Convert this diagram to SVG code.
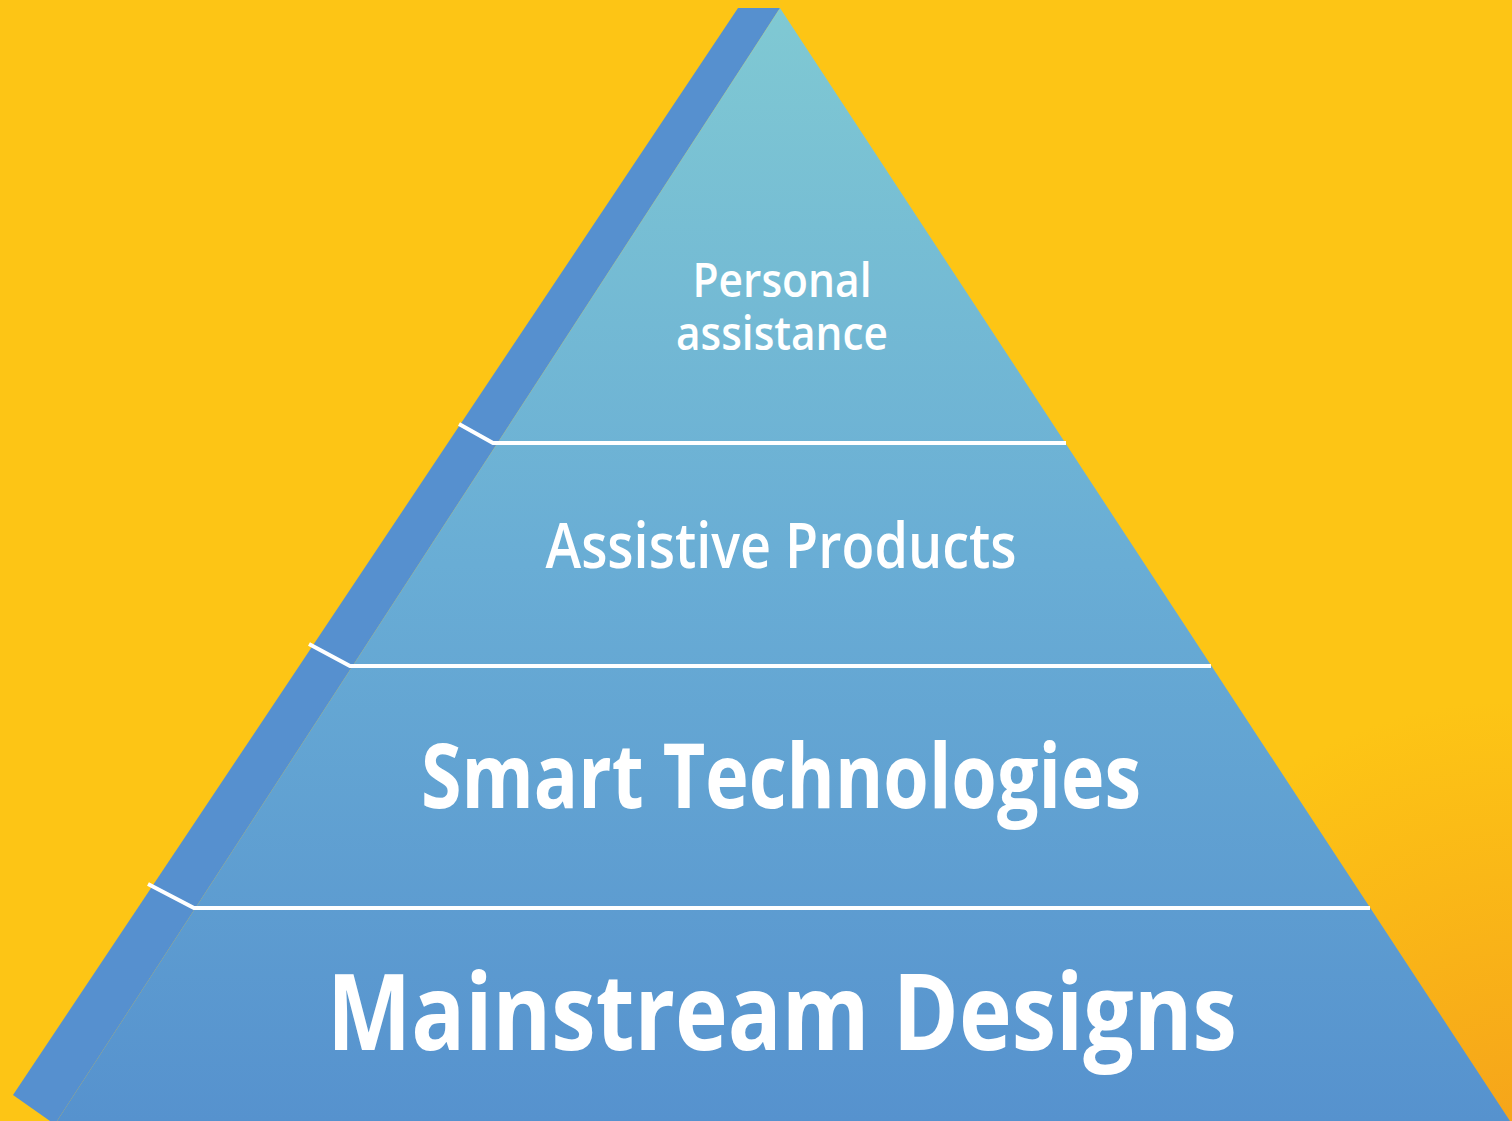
<svg xmlns="http://www.w3.org/2000/svg" width="1512" height="1121" viewBox="0 0 1512 1121">
  <defs>
    <radialGradient id="bg" cx="1512" cy="1121" r="420" gradientUnits="userSpaceOnUse">
      <stop offset="0" stop-color="#F6A51A"/>
      <stop offset="1" stop-color="#FDC515"/>
    </radialGradient>
    <linearGradient id="face" x1="0" y1="8" x2="0" y2="1121" gradientUnits="userSpaceOnUse">
      <stop offset="0" stop-color="#80C9D3"/>
      <stop offset="0.5" stop-color="#69ADD5"/>
      <stop offset="1" stop-color="#5692CE"/>
    </linearGradient>
  </defs>
  <style>
    .sep { fill: none; stroke: #FFFFFF; stroke-width: 4; stroke-linejoin: miter; }
    .lbl { fill: #FFFFFF; font-family: "Open Sans", "Liberation Sans", sans-serif; font-weight: 600; text-anchor: middle; }
    .big { font-weight: 700; }
  </style>
  <rect width="1512" height="1121" fill="#FDC515"/>
  <rect width="1512" height="1121" fill="url(#bg)"/>
  <g id="pyramid">
    <polygon points="738,8 780,8 57,1121 50,1121 13,1095" fill="#5690CF"/>
    <polygon points="780,8 1510,1121 57,1121" fill="url(#face)"/>
  </g>
  <g id="connectors">
    <polyline class="sep" points="459,424 493,443 1066,443"/>
    <polyline class="sep" points="309,644 350,666 1211,666"/>
    <polyline class="sep" points="148,884 194,908 1370,908"/>
  </g>
  <g id="node-personal">
    <text class="lbl" x="782" y="297" font-size="47" textLength="179" lengthAdjust="spacingAndGlyphs">Personal</text>
    <text class="lbl" x="782" y="350" font-size="47" textLength="212" lengthAdjust="spacingAndGlyphs">assistance</text>
  </g>
  <g id="node-assistive">
    <text class="lbl" x="781" y="568" font-size="63" textLength="471" lengthAdjust="spacingAndGlyphs">Assistive Products</text>
  </g>
  <g id="node-smart">
    <text class="lbl big" x="781" y="808" font-size="90" textLength="720" lengthAdjust="spacingAndGlyphs">Smart Technologies</text>
  </g>
  <g id="node-mainstream">
    <text class="lbl big" x="782" y="1050" font-size="105" textLength="910" lengthAdjust="spacingAndGlyphs">Mainstream Designs</text>
  </g>
</svg>
